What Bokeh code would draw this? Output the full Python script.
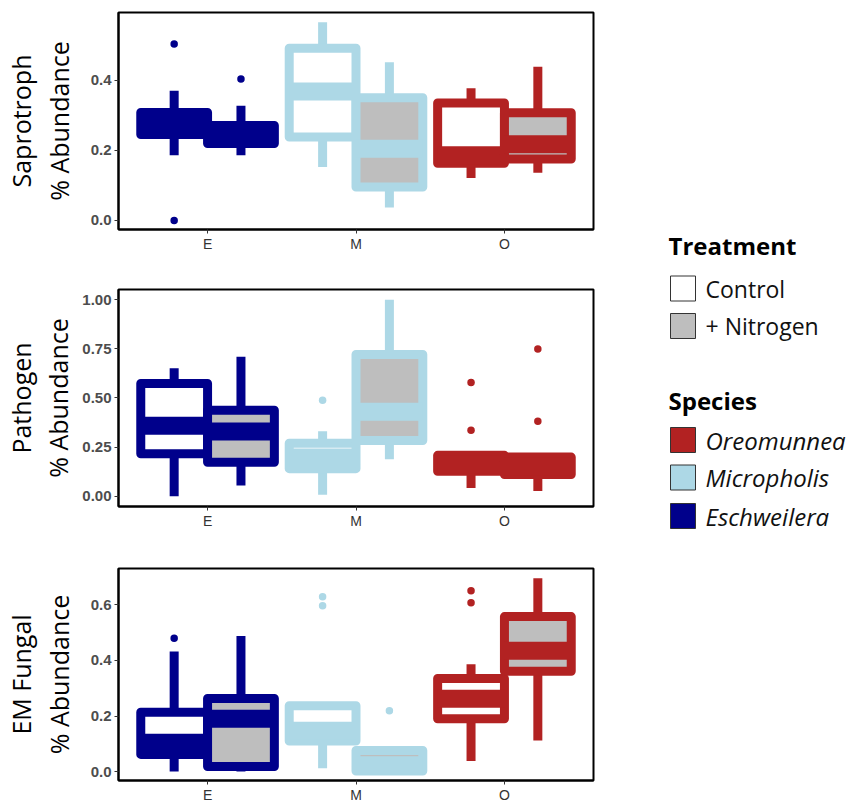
from bokeh.plotting import figure
from bokeh.layouts import column, row
from bokeh.models import ColumnDataSource, Range1d, FixedTicker, PrintfTickFormatter
from bokeh.core.properties import value
from bokeh.embed import file_html
from bokeh.resources import INLINE

# Species on the x axis (E, M, O) and treatments dodged within each species
species_codes = ["E", "M", "O"]
species_colors = ["#00008B", "#ADD8E6", "#B22222"]
treatment_fills = ["#FFFFFF", "#BEBEBE"]

# Box statistics, group order: E-Control, E-N, M-Control, M-N, O-Control, O-N
sap_low = [0.186, 0.186, 0.152, 0.037, 0.121, 0.136]
sap_q1 = [0.245, 0.219, 0.238, 0.095, 0.163, 0.175]
sap_med = [0.270, 0.245, 0.368, 0.204, 0.186, 0.217]
sap_q3 = [0.308, 0.271, 0.491, 0.350, 0.335, 0.307]
sap_high = [0.370, 0.327, 0.565, 0.451, 0.377, 0.438]
sap_out_group = [0, 0, 1]
sap_out_val = [0.503, 0.000, 0.403]

path_low = [0.000, 0.054, 0.007, 0.188, 0.042, 0.027]
path_q1 = [0.216, 0.173, 0.140, 0.283, 0.127, 0.110]
path_med = [0.359, 0.329, 0.197, 0.430, 0.160, 0.150]
path_q3 = [0.574, 0.438, 0.270, 0.721, 0.208, 0.199]
path_high = [0.651, 0.710, 0.331, 1.000, 0.220, 0.210]
path_out_group = [2, 4, 4, 5, 5]
path_out_val = [0.488, 0.579, 0.336, 0.749, 0.382]

em_low = [0.000, 0.000, 0.012, 0.000, 0.038, 0.112]
em_q1 = [0.062, 0.018, 0.110, 0.002, 0.190, 0.361]
em_med = [0.104, 0.190, 0.147, 0.023, 0.262, 0.435]
em_q3 = [0.2135, 0.263, 0.237, 0.076, 0.335, 0.558]
em_high = [0.432, 0.488, 0.245, 0.088, 0.386, 0.696]
em_out_group = [0, 2, 2, 3, 4, 4]
em_out_val = [0.480, 0.629, 0.597, 0.219, 0.651, 0.608]

# Legend contents
treatment_labels = ["Control", "+ Nitrogen"]
species_labels = ["Oreomunnea", "Micropholis", "Eschweilera"]
species_label_colors = ["#B22222", "#ADD8E6", "#00008B"]

DODGE = 0.225
HALF_W = 0.225
BOX_LW = 9
MED_LW = 18


def make_panel(label, low, q1, med, q3, high, out_group, out_val,
               yr, ticks, fmt, standoff, height, top, bottom):
    p = figure(width=613, height=height, x_range=Range1d(0.4, 3.6), y_range=Range1d(*yr),
               toolbar_location=None, output_backend="svg",
               min_border_left=117, min_border_right=20,
               min_border_top=top, min_border_bottom=bottom)
    p.xgrid.visible = False
    p.ygrid.visible = False
    p.outline_line_color = "black"
    p.outline_line_width = 2
    p.background_fill_color = "white"
    p.border_fill_color = "white"

    for i in range(6):
        s, t = divmod(i, 2)
        col = species_colors[s]
        xc = s + 1 + (-DODGE if t == 0 else DODGE)
        src = ColumnDataSource(dict(x=[xc], left=[xc - HALF_W], right=[xc + HALF_W],
                                    lo=[low[i]], q1=[q1[i]], med=[med[i]],
                                    q3=[q3[i]], hi=[high[i]]))
        ov = [v for g, v in zip(out_group, out_val) if g == i]
        if ov:
            p.scatter(x=[xc] * len(ov), y=ov, size=7.5, color=col, line_width=0)
        p.segment(x0="x", y0="q3", x1="x", y1="hi", source=src,
                  line_color=col, line_width=BOX_LW, line_cap="butt")
        p.segment(x0="x", y0="lo", x1="x", y1="q1", source=src,
                  line_color=col, line_width=BOX_LW, line_cap="butt")
        p.quad(left="left", right="right", bottom="q1", top="q3", source=src,
               fill_color=treatment_fills[t], line_color=col, line_width=BOX_LW,
               line_join="round")
        p.segment(x0="left", y0="med", x1="right", y1="med", source=src,
                  line_color=col, line_width=MED_LW, line_cap="butt")

    p.xaxis.ticker = FixedTicker(ticks=[1, 2, 3])
    p.xaxis.major_label_overrides = {i + 1: c for i, c in enumerate(species_codes)}
    p.yaxis.ticker = FixedTicker(ticks=ticks)
    p.yaxis.formatter = PrintfTickFormatter(format=fmt)

    p.axis.axis_line_color = "black"
    p.axis.axis_line_width = 2
    p.axis.major_tick_line_color = "#333333"
    p.axis.major_tick_line_width = 1
    p.axis.major_tick_in = 0
    p.axis.major_tick_out = 4
    p.axis.minor_tick_line_color = None
    p.xaxis.major_label_standoff = 2
    p.yaxis.major_label_standoff = 3

    p.yaxis.major_label_text_font = "Liberation Sans"
    p.yaxis.major_label_text_font_size = "15px"
    p.yaxis.major_label_text_font_style = "bold"
    p.yaxis.major_label_text_color = "#4D4D4D"
    p.xaxis.major_label_text_font = "Liberation Sans"
    p.xaxis.major_label_text_font_size = "14px"
    p.xaxis.major_label_text_color = "#333333"

    p.yaxis.axis_label = label
    p.yaxis.axis_label_text_font = "Open Sans"
    p.yaxis.axis_label_text_font_size = "25px"
    p.yaxis.axis_label_text_font_style = "normal"
    p.yaxis.axis_label_text_color = "black"
    p.yaxis.axis_label_text_line_height = 1.1
    p.yaxis.axis_label_standoff = standoff
    return p


p1 = make_panel("Saprotroph\n% Abundance", sap_low, sap_q1, sap_med, sap_q3, sap_high,
                sap_out_group, sap_out_val, (-0.026, 0.593), [0.0, 0.2, 0.4], "%.1f",
                12, 278, 12, 49)
p2 = make_panel("Pathogen\n% Abundance", path_low, path_q1, path_med, path_q3, path_high,
                path_out_group, path_out_val, (-0.0525, 1.052),
                [0.0, 0.25, 0.5, 0.75, 1.0], "%.2f", 4, 278, 11, 50)
p3 = make_panel("EM Fungal\n% Abundance", em_low, em_q1, em_med, em_q3, em_high,
                em_out_group, em_out_val, (-0.032, 0.731), [0.0, 0.2, 0.4, 0.6], "%.1f",
                12, 249, 12, 20)

# Legend panel, drawn in pixel-like coordinates
leg = figure(width=240, height=805, x_range=Range1d(0, 240), y_range=Range1d(805, 0),
             toolbar_location=None, output_backend="svg", x_axis_type=None,
             y_axis_type=None, min_border=0)
leg.xgrid.visible = False
leg.ygrid.visible = False
leg.outline_line_color = None

key_x = 69.5
label_x = 92
treat_y = [288, 325.5]
spec_y = [439.5, 477, 515.5]

leg.text(x=[55], y=[245], text=["Treatment"], text_font=value("Open Sans"),
         text_font_size="24px", text_font_style="bold", text_color="black",
         text_baseline="middle")
leg.rect(x=[key_x] * 2, y=treat_y, width=25, height=25, width_units="screen",
         height_units="screen", fill_color=treatment_fills, line_color="#333333",
         line_width=1)
leg.text(x=[label_x] * 2, y=treat_y, text=treatment_labels, text_font=value("Open Sans"),
         text_font_size="23px", text_color="#111111", text_baseline="middle")

leg.text(x=[55], y=[400], text=["Species"], text_font=value("Open Sans"),
         text_font_size="24px", text_font_style="bold", text_color="black",
         text_baseline="middle")
leg.rect(x=[key_x] * 3, y=spec_y, width=25, height=25, width_units="screen",
         height_units="screen", fill_color=species_label_colors, line_color="#333333",
         line_width=1)
leg.text(x=[label_x] * 3, y=spec_y, text=species_labels, text_font=value("Open Sans"),
         text_font_size="24px", text_font_style="italic", text_color="#111111",
         text_baseline="middle")

layout = row(column(p1, p2, p3, spacing=0), leg, spacing=0)
open("out.html", "w").write(file_html(layout, INLINE))
